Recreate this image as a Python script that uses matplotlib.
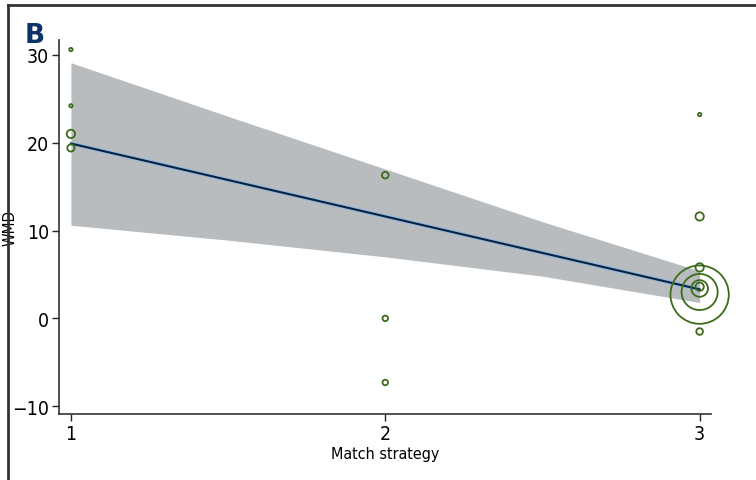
import matplotlib
matplotlib.use("Agg")
import matplotlib.pyplot as plt

plt.rcParams["font.family"] = ["DejaVu Sans"]
plt.rcParams["font.stretch"] = "condensed"

# study points: match strategy, WMD, marker radius (pt)
strategy = [1, 1, 1, 1, 2, 2, 2, 3, 3, 3, 3, 3, 3, 3, 3]
wmd = [30.6, 24.2, 21.0, 19.4, 16.3, 0.0, -7.3, 23.2, 11.6, 5.8, 3.6, 3.4, 3.0, 2.7, -1.5]
radius = [1.2, 1.2, 3.0, 2.6, 2.4, 2.0, 2.0, 1.2, 3.0, 3.0, 3.0, 6.0, 13.0, 21.0, 2.4]

# fitted line and confidence band
fit_x = [1, 3]
fit_y = [19.9, 3.3]
band_x = [1.0, 1.5, 2.0, 2.5, 3.0]
band_hi = [29.1, 23.0, 17.0, 11.0, 5.4]
band_lo = [10.6, 8.9, 7.0, 4.8, 1.8]

GREEN = "#3d6b1c"

fig = plt.figure(figsize=(7.56, 4.81), dpi=100)
ax = fig.add_axes([0.078, 0.137, 0.862, 0.778])

ax.fill_between(band_x, band_lo, band_hi, color="#b9bcbe", lw=0, zorder=1)
ax.plot(fit_x, fit_y, color="#8fb8dc", lw=3.0, zorder=2, solid_capstyle="butt")
ax.plot(fit_x, fit_y, color="#0b2142", lw=1.5, zorder=3)

for x, y, r in zip(strategy, wmd, radius):
    ax.scatter(x, y, s=(2 * r) ** 2, facecolors="none", edgecolors=GREEN,
               linewidths=1.3, zorder=4, clip_on=False)

ax.set_xlim(0.962, 3.035)
ax.set_ylim(-10.9, 31.7)
ax.set_xticks([1, 2, 3])
ax.set_yticks([-10, 0, 10, 20, 30])
ax.set_yticklabels(["\u221210", "0", "10", "20", "30"])
ax.tick_params(labelsize=14, length=5, width=1, color="#222222", pad=2)
for side in ("top", "right"):
    ax.spines[side].set_visible(False)
for side in ("left", "bottom"):
    ax.spines[side].set_linewidth(1.2)
    ax.spines[side].set_color("#333333")
ax.set_xlabel("Match strategy", fontsize=11.5, labelpad=2)
ax.set_ylabel("WMD", fontsize=11)
ax.yaxis.set_label_coords(-0.063, 0.5)

# panel frame and label
fig.add_artist(plt.Line2D([0.0106, 1.0], [0.9875, 0.9875], color="#333333", lw=2,
                          transform=fig.transFigure))
fig.add_artist(plt.Line2D([0.0106, 0.0106], [0.0, 0.9875], color="#333333", lw=2,
                          transform=fig.transFigure))
fig.text(0.033, 0.91, "B", fontsize=19, fontweight="bold", color="#0b3366",
         stretch="normal")

fig.savefig("out.png", dpi=100)
